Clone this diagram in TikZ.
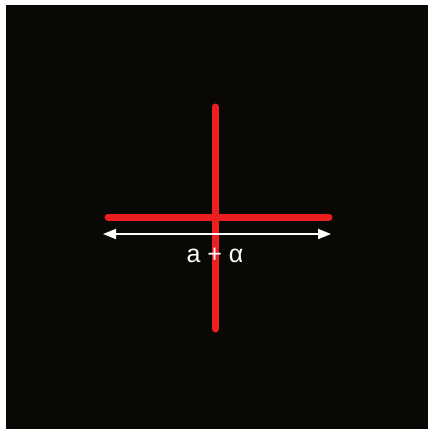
\documentclass[tikz,border=0pt]{standalone}
\usepackage{fontspec}
\setmainfont{Liberation Sans}
\usetikzlibrary{arrows.meta}
\definecolor{bg}{RGB}{10,8,5}
\definecolor{crossred}{RGB}{236,30,32}
\tikzset{
  crossline/.style={line width=7pt, crossred, line cap=round},
  measure/.style={white, line width=1.8pt, {Triangle[length=13pt,width=10pt]}-{Triangle[length=13pt,width=10pt]}},
  label/.style={text=white, font=\fontsize{25}{28}\selectfont, inner sep=0pt}
}
\begin{document}
\begin{tikzpicture}[x=1pt,y=-1pt]
\useasboundingbox (0,0) rectangle (428,432);
\fill[white] (0,0) rectangle (428,432);
\fill[bg] (6,5) rectangle (428,429);
\coordinate (vt) at (215,107);
\coordinate (vb) at (215,329);
\coordinate (hl) at (108,217);
\coordinate (hr) at (329,217);
\coordinate (al) at (103,234);
\coordinate (ar) at (331,234);
\draw[crossline] (vt) -- (vb);
\draw[crossline] (hl) -- (hr);
\draw[measure] (al) -- (ar);
\node[label] (t) at (215,255) {a + α};
\end{tikzpicture}
\end{document}
